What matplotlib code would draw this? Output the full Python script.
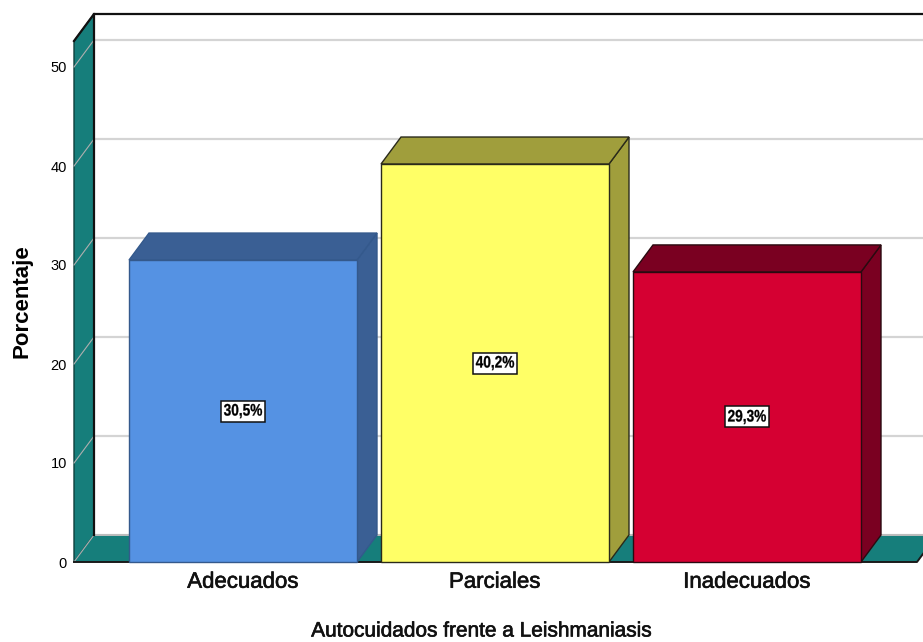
import matplotlib
matplotlib.use("Agg")
import matplotlib.pyplot as plt
import matplotlib.patheffects as pe
from matplotlib.patches import Polygon, PathPatch, Rectangle
from matplotlib.textpath import TextPath
from matplotlib.font_manager import FontProperties
from matplotlib.transforms import Affine2D, IdentityTransform

# Data
categories = ["Adecuados", "Parciales", "Inadecuados"]
percentages = [30.5, 40.2, 29.3]
value_labels = ["30,5%", "40,2%", "29,3%"]
y_ticks = [0, 10, 20, 30, 40, 50]

# Styling
front_colors = ["#5592E3", "#FFFF66", "#D50032"]
shade_colors = ["#3A5F94", "#A09E3C", "#7A0021"]
edge_colors = ["#34598C", "#2A2A1A", "#2A0A10"]
wall_color = "#167E7B"
grid_color = "#D4D4D4"

plt.rcParams["font.family"] = ["Liberation Sans", "DejaVu Sans"]

W, H = 923, 642
DPI = 100
fig = plt.figure(figsize=(W / DPI, H / DPI), dpi=DPI)

# Front plane of the axes in pixel terms
left_px, right_px, bottom_px, top_px = 74, 923, 562, 41
ax = fig.add_axes([left_px / W, 1 - bottom_px / H,
                   (right_px - left_px) / W, (bottom_px - top_px) / H])

px_per_unit_x = 252.0
px_per_unit_y = 9.9
center0_px = 243
x0 = -(center0_px - left_px) / px_per_unit_x
x1 = (right_px - center0_px) / px_per_unit_x
ymax = (bottom_px - top_px) / px_per_unit_y
ax.set_xlim(x0, x1)
ax.set_ylim(0, ymax)

# Depth of the pseudo-3D projection (in data units)
dx = 20 / px_per_unit_x
dy = 27 / px_per_unit_y
bar_w = 228 / px_per_unit_x
floor_right = (917 - center0_px) / px_per_unit_x
xr_far = x1 + 1.0

for s in ax.spines.values():
    s.set_visible(False)

# Back-wall gridlines
for t in y_ticks:
    ax.plot([x0 + dx, xr_far], [t + dy, t + dy], color=grid_color, lw=1.6,
            zorder=1, clip_on=False, solid_capstyle="butt")

# Side wall with slanted grid continuation
wall = Polygon([(x0, 0), (x0 + dx, dy), (x0 + dx, ymax + dy), (x0, ymax)],
               closed=True, facecolor=wall_color, edgecolor="#0E3F3D", lw=1.0,
               zorder=2, clip_on=False)
ax.add_patch(wall)
for t in y_ticks:
    ax.plot([x0, x0 + dx], [t, t + dy], color="#AFAFAF", lw=0.8, zorder=3,
            clip_on=False)

# Floor
floor = Polygon([(x0, 0), (floor_right, 0), (floor_right + dx, dy),
                 (x0 + dx, dy)], closed=True, facecolor=wall_color,
                edgecolor="none", zorder=2, clip_on=False)
ax.add_patch(floor)
ax.plot([x0 + dx, xr_far], [dy, dy], color="#BDBDBD", lw=1.4, zorder=3,
        clip_on=False)
ax.plot([x0, floor_right, floor_right + dx], [0, 0, dy], color="#1A1A1A",
        lw=1.4, zorder=3, clip_on=False)

# Back wall frame
ax.plot([x0 + dx, x0 + dx], [dy, ymax + dy], color="#111111", lw=1.6,
        zorder=3, clip_on=False)
ax.plot([x0, x0 + dx, xr_far], [ymax, ymax + dy, ymax + dy], color="#111111",
        lw=1.6, zorder=3, clip_on=False)

label_font = FontProperties(family="Liberation Sans", weight="bold")
label_size_px = 12 * DPI / 72
label_squeeze = 0.82


def condensed_label(x, y, s):
    """Bold condensed value label in a white framed box centred at (x, y)."""
    X, Y = ax.transData.transform((x, y))
    path = TextPath((0, 0), s, size=label_size_px, prop=label_font)
    ext = path.get_extents()
    cx = (ext.x0 + ext.x1) / 2
    cy = (ext.y0 + ext.y1) / 2
    tr = Affine2D().translate(-cx, -cy).scale(label_squeeze, 1).translate(X, Y)
    tw = (ext.x1 - ext.x0) * label_squeeze
    bw, bh = tw + 6, 21
    box = Rectangle((X - bw / 2, Y - bh / 2), bw, bh, facecolor="white",
                    edgecolor="#111111", lw=1.1, transform=IdentityTransform(),
                    zorder=6)
    fig.patches.append(box)
    txt = PathPatch(tr.transform_path(path), facecolor="black",
                    edgecolor="black", lw=0.2, transform=IdentityTransform(),
                    zorder=7)
    fig.patches.append(txt)


# Bars
for i, (v, fc, sc, ec) in enumerate(zip(percentages, front_colors,
                                         shade_colors, edge_colors)):
    l = i - bar_w / 2
    r = i + bar_w / 2
    top = Polygon([(l, v), (r, v), (r + dx, v + dy), (l + dx, v + dy)],
                  closed=True, facecolor=sc, edgecolor=ec, lw=1.0, zorder=4,
                  clip_on=False)
    side = Polygon([(r, 0), (r + dx, dy), (r + dx, v + dy), (r, v)],
                   closed=True, facecolor=sc, edgecolor=ec, lw=1.0, zorder=4,
                   clip_on=False)
    front = Polygon([(l, 0), (r, 0), (r, v), (l, v)], closed=True,
                    facecolor=fc, edgecolor=ec, lw=1.0, zorder=5,
                    clip_on=False)
    ax.add_patch(side)
    ax.add_patch(top)
    ax.add_patch(front)

# Slight stroke to give the regular-weight labels a heavier look
heavy = [pe.withStroke(linewidth=0.45, foreground="#111111")]

# Ticks and labels
ax.set_yticks(y_ticks)
ax.set_yticklabels([str(t) for t in y_ticks], fontsize=10.5)
ax.set_xticks(range(len(categories)))
ax.set_xticklabels(categories, fontsize=16, color="#111111")
for lbl in ax.get_xticklabels():
    lbl.set_path_effects(heavy)
ax.tick_params(axis="y", length=0, pad=5)
ax.tick_params(axis="x", length=0, pad=7)

fig.text(482 / W, 1 - 631 / H, "Autocuidados frente a Leishmaniasis",
         ha="center", va="center", fontsize=15, color="#111111",
         path_effects=heavy)
fig.text(22 / W, 1 - 301 / H, "Porcentaje", ha="center", va="center",
         rotation=90, fontsize=16, fontweight="bold")

# Value labels, placed once the data transform is final
for i, (v, s) in enumerate(zip(percentages, value_labels)):
    condensed_label(i, v / 2, s)

fig.savefig("out.png", dpi=DPI, facecolor="white")
